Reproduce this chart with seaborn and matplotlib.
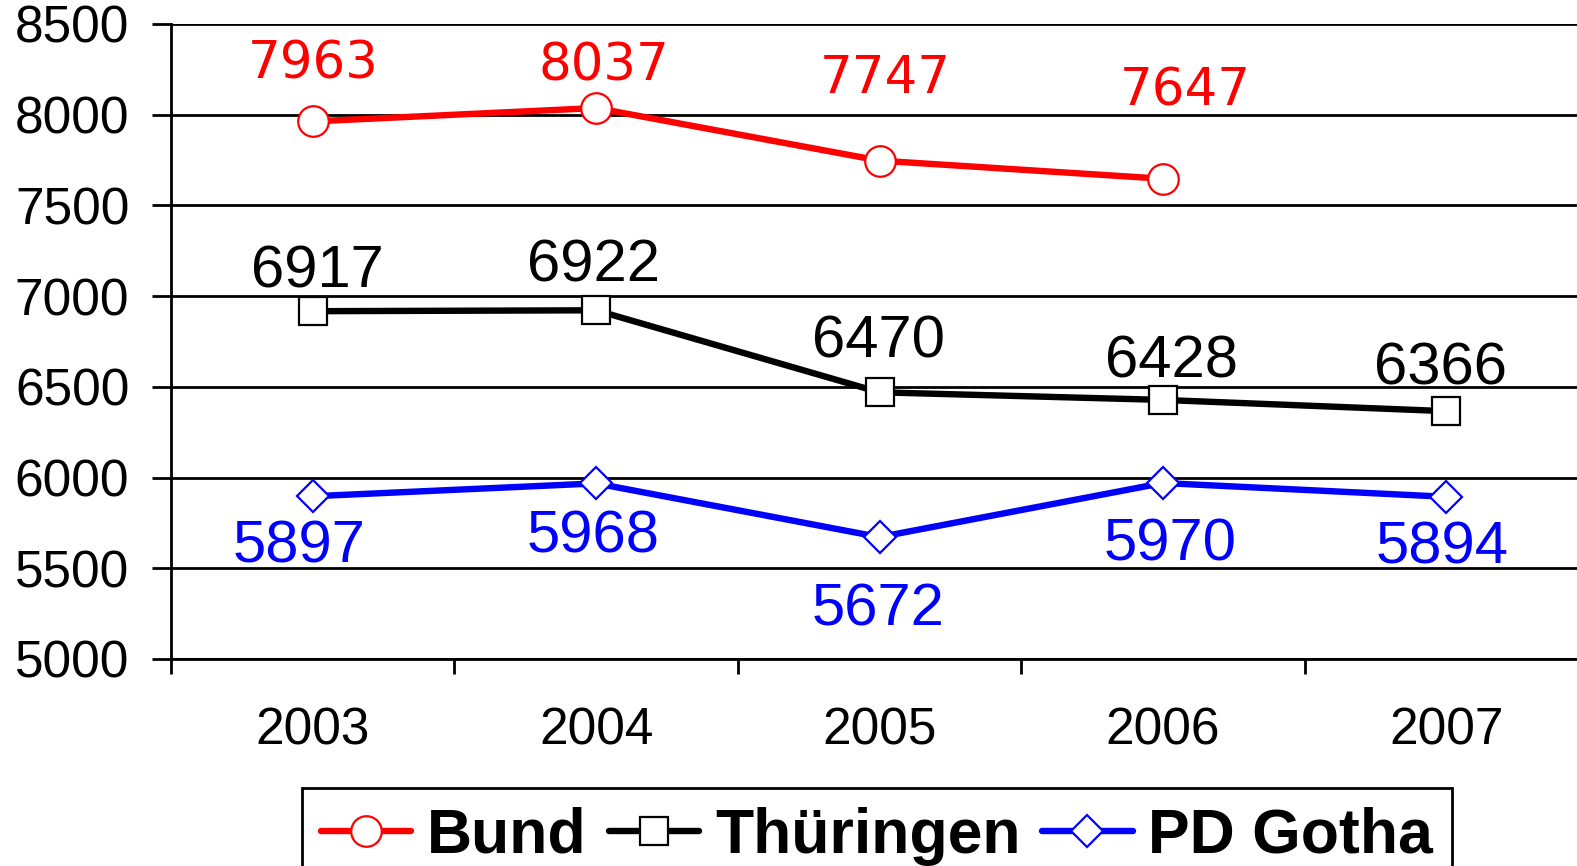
import matplotlib
matplotlib.use("Agg")
import matplotlib.pyplot as plt
import seaborn as sns
import numpy as np
import pandas as pd
from matplotlib.ticker import FixedLocator, NullFormatter, FixedFormatter

years = ["2003", "2004", "2005", "2006", "2007"]
bund = [7963, 8037, 7747, 7647, np.nan]
thueringen = [6917, 6922, 6470, 6428, 6366]
gotha = [5897, 5968, 5672, 5970, 5894]
series_names = ["Bund", "Thüringen", "PD Gotha"]
y_ticks = [5000, 5500, 6000, 6500, 7000, 7500, 8000, 8500]

# label offsets in pixels (styling)
off_bund = [(0, 57), (8, 42), (6, 82), (22, 87)]
off_thue = [(5, 39), (-3, 44), (-1, 50), (9, 38), (-6, 42)]
off_gotha = [(-14, -51), (-3, -54), (-1, -73), (7, -62), (-4, -51)]

sns.set_theme(style="white")
plt.rcParams['font.family'] = ['Liberation Sans', 'DejaVu Sans']
plt.rcParams['text.color'] = 'black'

fig = plt.figure(figsize=(15.77, 8.66), dpi=100)
ax = fig.add_axes([171/1577, 1-659/866, 1417/1577, (659-24)/866])

pos = np.arange(len(years)) + 0.5
df = pd.DataFrame({"x": np.tile(pos, 3),
                   "value": bund + thueringen + gotha,
                   "series": np.repeat(series_names, len(years))})

colors = ["#FF0000", "#000000", "#0000FF"]
markers = ["o", "s", "D"]
msizes = [22, 20, 16]
for name, c, m, ms in zip(series_names, colors, markers, msizes):
    sub = df[df.series == name].dropna()
    sns.lineplot(data=sub, x="x", y="value", ax=ax, color=c, lw=4.6,
                 marker=m, markersize=ms, markerfacecolor="white",
                 markeredgecolor=c, markeredgewidth=1.6, label=name, zorder=3)

def annotate(vals, offs, color, family, size):
    for x, v, o in zip(pos, vals, offs):
        if np.isnan(v):
            continue
        ax.annotate(f"{int(v)}", (x, v), xytext=o, textcoords="offset pixels",
                    ha="center", va="center", color=color, fontsize=size,
                    family=[family], zorder=4)

annotate(bund, off_bund, "#FF0000", "DejaVu Sans", 37)
annotate(thueringen, off_thue, "#000000", "Liberation Sans", 43)
annotate(gotha, off_gotha, "#0000FF", "Liberation Sans", 43)

ax.set_xlim(0, len(years))
ax.set_ylim(5000, 8500)
ax.set_yticks(y_ticks)
ax.set_yticklabels([str(t) for t in y_ticks])
ax.yaxis.grid(True, color="black", lw=2)
ax.set_axisbelow(True)
ax.xaxis.set_major_locator(FixedLocator(np.arange(len(years)+1)))
ax.xaxis.set_major_formatter(NullFormatter())
ax.xaxis.set_minor_locator(FixedLocator(pos))
ax.xaxis.set_minor_formatter(FixedFormatter(years))
ax.tick_params(axis="x", which="major", direction="out", length=11, width=2,
               color="black", bottom=True)
ax.tick_params(axis="x", which="minor", length=0, pad=34, labelsize=37,
               labelcolor="black")
ax.tick_params(axis="y", direction="out", length=14, width=2, color="black",
               pad=16, labelsize=37, labelcolor="black", left=True)
for s in ["top", "right"]:
    ax.spines[s].set_visible(False)
for s in ["left", "bottom"]:
    ax.spines[s].set_color("black")
    ax.spines[s].set_linewidth(2)
ax.set_xlabel("")
ax.set_ylabel("")

leg = ax.legend(loc="upper left", bbox_to_anchor=(302/1577, 1-788/866),
                bbox_transform=fig.transFigure, ncol=3, frameon=True,
                fancybox=False, edgecolor="black", framealpha=1,
                prop={"family": "Liberation Sans", "weight": "bold", "size": 45},
                handlelength=1.45, handletextpad=0.25, columnspacing=0.35,
                borderpad=0.3, borderaxespad=0, labelcolor="black")
leg.get_frame().set_linewidth(2)

fig.savefig("out.png", dpi=100)
